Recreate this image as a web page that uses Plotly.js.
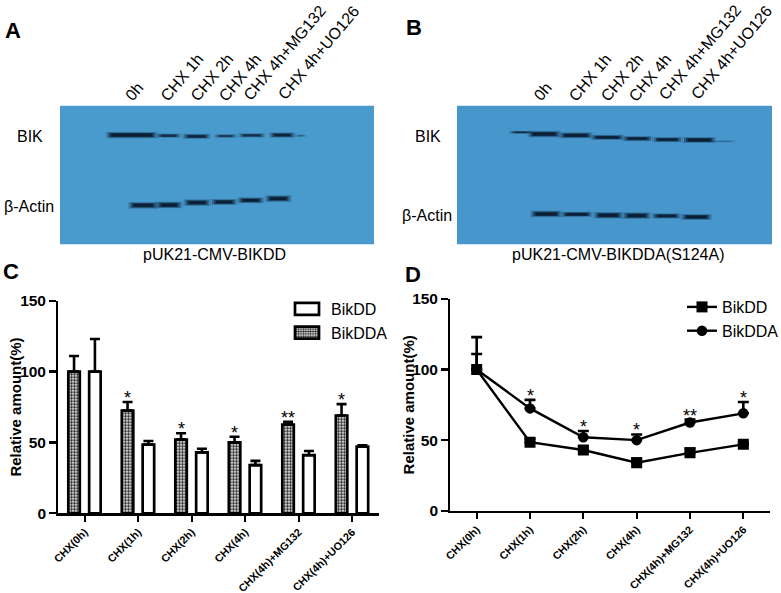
<!DOCTYPE html>
<html>
<head>
<meta charset="utf-8">
<script src="https://cdn.plot.ly/plotly-3.0.1.min.js"></script>
<style>html,body{margin:0;padding:0;background:#fff}#chart{width:781px;height:593px}</style>
</head>
<body>
<div id="chart"></div>
<script>
// ---- quantification data (panels C and D) ----
const categories = ['CHX(0h)','CHX(1h)','CHX(2h)','CHX(4h)','CHX(4h)+MG132','CHX(4h)+UO126'];
const bikDD      = [100, 48.5, 43, 34, 41, 47];
const bikDDerr   = [23, 2.5, 2.5, 3, 3, 1];
const bikDDA     = [100, 72.5, 52, 50, 62.5, 69];
const bikDDAerr  = [11, 6, 4.5, 4, 2, 8];
const starText   = ['', '*', '*', '*', '**', '*'];
const starLevelC = [0, 78.5, 56.5, 54, 64.5, 77];
const yTicks     = [0, 50, 100, 150];

// ---- blot data (panels A and B), in gel units along and across the film ----
const laneLabels = ['0h','CHX 1h','CHX 2h','CHX 4h','CHX 4h+MG132','CHX 4h+UO126'];
const bikA_from  = [325,475,555,650,722,815,890];
const bikA_to    = [465,537,625,705,790,880,915];
const bikA_y     = [405,407,409,408,406,405,407];
const bikA_size  = [4.5,3,3.5,2.5,3,3.5,1.5];
const bikA_dark  = [1,.75,.85,.65,.75,.9,.4];
const actA_from  = [392,475,558,640,720,803];
const actA_to    = [468,540,625,705,785,868];
const actA_y     = [616,615,608,606,601,596];
const actA_size  = [4.5,4.5,4.5,4,4,4.5];
const actA_dark  = [1,1,1,1,1,1];
const bikB_from  = [365,420,515,610,705,795,885,970];
const bikB_to    = [420,505,600,695,780,870,970,1030];
const bikB_y     = [397,402,406,412,416,419,420,424];
const bikB_size  = [2,4.5,4,3.5,3.5,3.5,4,1.5];
const bikB_dark  = [.8,1,1,.95,.95,.95,1,.25];
const actB_from  = [428,520,618,705,793,880];
const actB_to    = [508,600,692,775,865,958];
const actB_y     = [642,643,646,647,648,651];
const actB_size  = [4.5,3.5,4.5,4.5,3.5,4];
const actB_dark  = [1,1,1,1,.95,1];

const W = 781, H = 593;
const px = v => v / W;
const py = v => 1 - v / H;
const FONT = 'Liberation Sans, Arial, sans-serif';

function bandTraces(from, to, y, size, dark, xa, ya) {
  const out = [];
  from.forEach((f, i) => {
    const layers = [[8, 1.5, .14], [3, 1.25, .3], [-3, .95, .55], [-9, .65, .85]];
    layers.forEach(([ext, k, a]) => {
      out.push({
        type: 'scatter', mode: 'lines', xaxis: xa, yaxis: ya, showlegend: false, hoverinfo: 'skip',
        x: [f - ext, to[i] + ext], y: [y[i], y[i]],
        line: {color: `rgba(8,26,48,${a * dark[i]})`, width: size[i] * k}
      });
    });
  });
  return out;
}

const errStyle = {type: 'data', symmetric: false, color: '#000', thickness: 2.6, width: 5};

const barDDA = {
  type: 'bar', name: 'BikDDA', x: categories, y: bikDDA, xaxis: 'x', yaxis: 'y', legend: 'legend',
  legendrank: 2, legendgroup: 'a', width: 0.215, offset: -0.3075,
  marker: {color: '#fff', line: {color: '#000', width: 2.7},
    pattern: {shape: '.', size: 3, solidity: 0.55, fgcolor: '#222', bgcolor: '#fff', fillmode: 'replace'}},
  error_y: Object.assign({array: bikDDAerr, arrayminus: categories.map(() => 0)}, errStyle)
};
const barDD = {
  type: 'bar', name: 'BikDD', x: categories, y: bikDD, xaxis: 'x', yaxis: 'y', legend: 'legend',
  legendrank: 1, legendgroup: 'b', width: 0.215, offset: 0.0825,
  marker: {color: '#fff', line: {color: '#000', width: 2.7}},
  error_y: Object.assign({array: bikDDerr, arrayminus: categories.map(() => 0)}, errStyle)
};
const lineDD = {
  type: 'scatter', mode: 'lines+markers', name: 'BikDD', x: categories, y: bikDD, xaxis: 'x2', yaxis: 'y2',
  legend: 'legend2', legendrank: 1, legendgroup: 'c',
  line: {color: '#000', width: 2.4}, marker: {symbol: 'square', size: 11, color: '#000'},
  error_y: Object.assign({array: bikDDerr, arrayminus: categories.map(() => 0)}, errStyle, {width: 5.5})
};
const lineDDA = {
  type: 'scatter', mode: 'lines+markers', name: 'BikDDA', x: categories, y: bikDDA, xaxis: 'x2', yaxis: 'y2',
  legend: 'legend2', legendrank: 2, legendgroup: 'd',
  line: {color: '#000', width: 2.4}, marker: {symbol: 'circle', size: 10.5, color: '#000'},
  error_y: Object.assign({array: bikDDAerr, arrayminus: categories.map(() => 0)}, errStyle, {width: 5.5})
};

const data = [barDDA, barDD, lineDD, lineDDA]
  .concat(bandTraces(bikA_from, bikA_to, bikA_y, bikA_size, bikA_dark, 'x3', 'y3'))
  .concat(bandTraces(actA_from, actA_to, actA_y, actA_size, actA_dark, 'x3', 'y3'))
  .concat(bandTraces(bikB_from, bikB_to, bikB_y, bikB_size, bikB_dark, 'x4', 'y4'))
  .concat(bandTraces(actB_from, actB_to, actB_y, actB_size, actB_dark, 'x4', 'y4'));

const catAxis = dom => ({
  domain: dom, range: [-0.5, 5.5], type: 'category', categoryorder: 'array', categoryarray: categories,
  showgrid: false, zeroline: false, showline: true, linecolor: '#000', linewidth: 2.4,
  ticks: 'outside', ticklen: 6, tickwidth: 2.2, tickcolor: '#000', tickangle: -45,
  tickfont: {family: FONT, size: 10.8, color: '#000', weight: 'bold'}
});
const valAxis = (dom, standoff) => ({
  domain: dom, range: [0, 150], tickmode: 'array', tickvals: yTicks, ticktext: yTicks.map(String),
  showgrid: false, zeroline: false, showline: true, linecolor: '#000', linewidth: 2.4,
  ticks: 'outside', ticklen: 6.5, tickwidth: 2.4, tickcolor: '#000',
  tickfont: {family: FONT, size: 15.5, color: '#000', weight: 'bold'},
  title: {text: 'Relative amount(%)', standoff: standoff, font: {family: FONT, size: 15, color: '#000', weight: 'bold'}}
});
const gelAxis = (dom, range) => ({domain: dom, range: range, visible: false, fixedrange: true});

const note = (text, x, y, size, extra) => Object.assign({
  text: text, xref: 'paper', yref: 'paper', x: px(x), y: py(y), xanchor: 'center', yanchor: 'middle',
  showarrow: false, font: {family: FONT, size: size, color: '#000'}
}, extra || {});

const laneC = [[134.5,92],[181.7,77.5],[211.7,77.5],[240,77.5],[285,53],[319,53]];
const laneD = [[542.7,91.7],[590,77.5],[622,77.5],[650.3,77.5],[699.7,52.3],[731.7,53]];

const annotations = [
  note('<b>A</b>', 13, 30, 22), note('<b>B</b>', 414, 28, 22),
  note('<b>C</b>', 11, 272, 22), note('<b>D</b>', 413, 274, 22),
  note('BIK', 30, 137, 16), note('β-Actin', 29, 206, 16),
  note('BIK', 428, 137, 16), note('β-Actin', 427, 215, 16),
  note('pUK21-CMV-BIKDD', 214, 254, 16), note('pUK21-CMV-BIKDDA(S124A)', 618, 254, 16)
];
laneLabels.forEach((t, i) => {
  annotations.push(note(t, laneC[i][0], laneC[i][1], 16, {textangle: -50}));
  annotations.push(note(t, laneD[i][0], laneD[i][1], 16, {textangle: -50}));
});
categories.forEach((c, i) => {
  if (!starText[i]) return;
  annotations.push({text: starText[i], xref: 'x', yref: 'y', x: i - 0.2, y: starLevelC[i], yanchor: 'bottom', yshift: -8,
    showarrow: false, font: {family: FONT, size: 18, color: '#000'}});
  annotations.push({text: starText[i], xref: 'x2', yref: 'y2', x: i, y: starLevelC[i], yanchor: 'bottom', yshift: -8,
    showarrow: false, font: {family: FONT, size: 18, color: '#000'}});
});

const legendBase = {
  bgcolor: 'rgba(0,0,0,0)', borderwidth: 0, xanchor: 'left', yanchor: 'top', tracegroupgap: 0,
  font: {family: FONT, size: 16, color: '#000'}
};

const layout = {
  width: W, height: H, margin: {l: 0, r: 0, t: 0, b: 0, pad: 0, autoexpand: false},
  paper_bgcolor: '#fff', plot_bgcolor: 'rgba(0,0,0,0)',
  hovermode: false,
  xaxis: Object.assign(catAxis([px(58), px(379)]), {anchor: 'y'}),
  yaxis: Object.assign(valAxis([py(513.3), py(300.7)], 0), {anchor: 'x'}),
  xaxis2: Object.assign(catAxis([px(450), px(770)]), {anchor: 'y2'}),
  yaxis2: Object.assign(valAxis([py(510.7), py(299)], 0), {anchor: 'x2'}),
  xaxis3: Object.assign(gelAxis([px(60), px(374)], [180, 1123]), {anchor: 'y3'}),
  yaxis3: Object.assign(gelAxis([py(244.3), py(105.7)], [733, 317]), {anchor: 'x3'}),
  xaxis4: Object.assign(gelAxis([px(457), px(772)], [201, 1146]), {anchor: 'y4'}),
  yaxis4: Object.assign(gelAxis([py(244.3), py(105.7)], [733, 317]), {anchor: 'x4'}),
  legend: Object.assign({x: px(291), y: py(292), itemwidth: 30}, legendBase),
  legend2: Object.assign({x: px(682), y: py(290), itemwidth: 30}, legendBase),
  shapes: [
    {type: 'rect', xref: 'paper', yref: 'paper', x0: px(60), x1: px(374), y0: py(244.3), y1: py(105.7),
      fillcolor: '#4a9bcd', line: {width: 0}, layer: 'below'},
    {type: 'rect', xref: 'paper', yref: 'paper', x0: px(457), x1: px(772), y0: py(244.3), y1: py(105.7),
      fillcolor: '#4797cc', line: {width: 0}, layer: 'below'}
  ],
  annotations: annotations
};

Plotly.newPlot('chart', data, layout, {displayModeBar: false, staticPlot: true}).then(gd => {
  // widen the bar legend keys to the proportions of the original figure
  gd.querySelectorAll('.legend .legendpoints path.legendundefined').forEach(p => {
    p.setAttribute('d', 'M12,6H-12V-6H12Z');
    p.setAttribute('transform', 'translate(16,0)');
  });
  gd.querySelectorAll('.legend .legendlines path').forEach(p => p.setAttribute('d', 'M4,0h22'));
  gd.querySelectorAll('.legend .legendpoints .scatterpts').forEach(p => p.setAttribute('transform', 'translate(16,0)'));
  // the original sets its y titles tight against the tick labels
  [['.ytitle', 5], ['.y2title', 6]].forEach(([sel, dx]) => {
    const t = gd.querySelector(sel);
    if (t) t.setAttribute('transform', `translate(${dx},0) ` + (t.getAttribute('transform') || ''));
  });
});
</script>
</body>
</html>
